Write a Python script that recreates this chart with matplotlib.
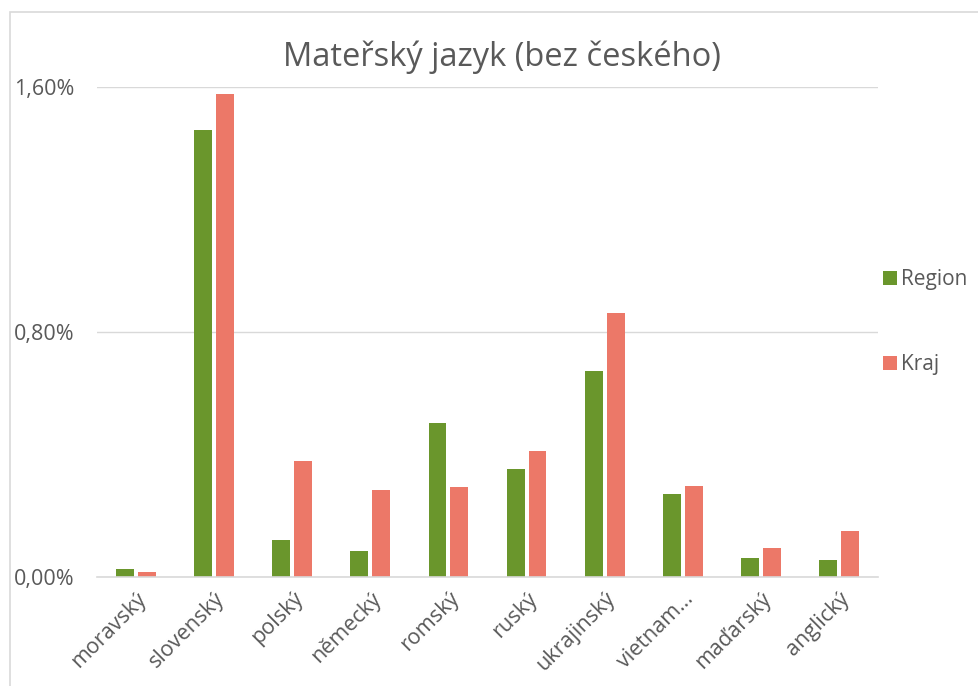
import numpy as np
import matplotlib.pyplot as plt
from matplotlib.patches import Rectangle
from matplotlib.ticker import FuncFormatter

plt.rcParams['font.family'] = ['Open Sans', 'DejaVu Sans']

# data (% of population)
categories = ['moravský', 'slovenský', 'polský', 'německý', 'romský',
              'ruský', 'ukrajinský', 'vietnam…', 'maďarský', 'anglický']
region = [0.026, 1.46, 0.12, 0.085, 0.503, 0.353, 0.673, 0.271, 0.062, 0.056]
kraj = [0.016, 1.577, 0.379, 0.284, 0.294, 0.411, 0.862, 0.297, 0.095, 0.150]

green = '#6A962C'
red = '#EC7868'
txt = '#595959'

fig = plt.figure(figsize=(9.79, 6.86), dpi=100)
ax = fig.add_axes([97/979, 1-577/686, 781/979, 490/686])

x = np.arange(len(categories))
w = 0.23
ax.bar(x - 0.14, region, w, color=green, label='Region')
ax.bar(x + 0.14, kraj, w, color=red, label='Kraj')

ax.set_xlim(-0.5, len(categories) - 0.5)
ax.set_ylim(0, 1.6)
ax.set_yticks([0, 0.8, 1.6])
ax.yaxis.set_major_formatter(FuncFormatter(lambda v, p: f'{v:.2f}%'.replace('.', ',')))
ax.grid(axis='y', color='#D9D9D9', lw=1)
ax.set_axisbelow(True)
for s in ['top', 'right', 'left']:
    ax.spines[s].set_visible(False)
ax.spines['bottom'].set_color('#D9D9D9')
ax.spines['bottom'].set_linewidth(1.2)

ax.set_xticks(x)
ax.set_xticklabels(categories, rotation=45, ha='right', rotation_mode='anchor')
ax.tick_params(axis='both', length=0, colors=txt)
ax.tick_params(axis='x', labelsize=15.5, pad=8)
ax.tick_params(axis='y', labelsize=15.5, pad=16)

fig.text(502/979, 1 - 57/686, 'Mateřský jazyk (bez českého)', fontsize=23.5,
         color=txt, ha='center', va='center')

ax.legend(loc='center left', bbox_to_anchor=(0.983, 0.52), frameon=False,
          fontsize=15, labelcolor=txt, labelspacing=3.05,
          handlelength=0.65, handleheight=0.65, handletextpad=0.2)

# chart border
fig.patches.append(Rectangle((10/979, -0.01), 1.0, 1 - 12/686 + 0.01,
                             transform=fig.transFigure, fill=False,
                             edgecolor='#D9D9D9', lw=1.2))

fig.savefig('out.png', dpi=100)
